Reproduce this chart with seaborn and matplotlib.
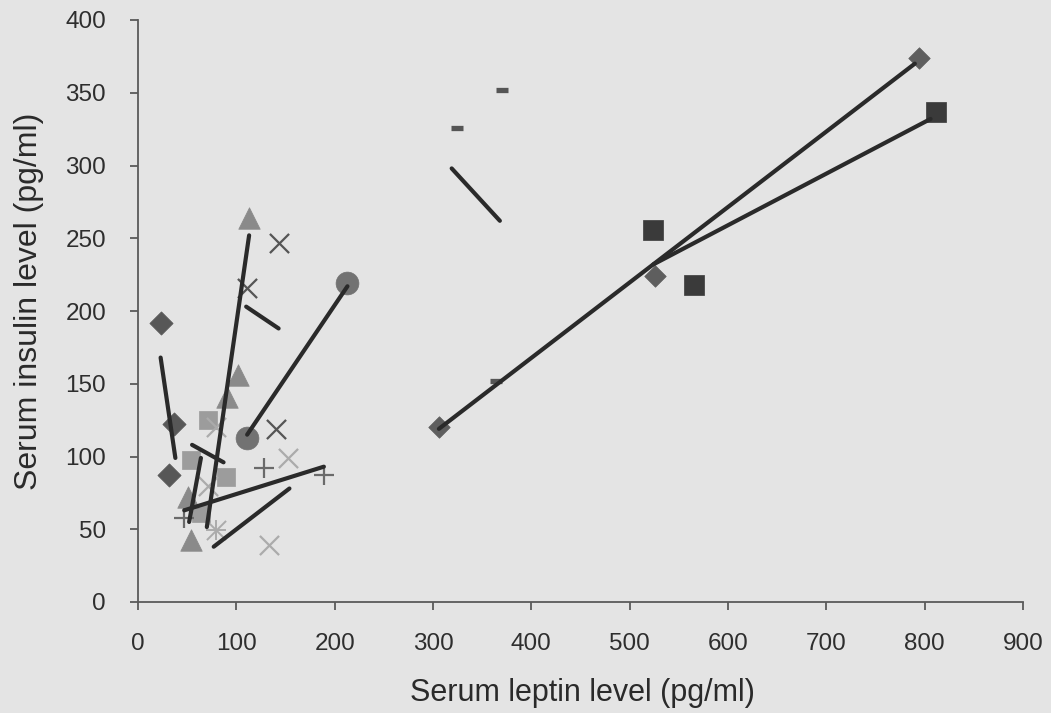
import pandas as pd
import matplotlib
matplotlib.use("Agg")
import matplotlib.pyplot as plt
import seaborn as sns

# one group of points per patient
patients = ["A", "B", "C", "D", "E", "F", "G", "H", "I", "J", "K", "L"]
leptin = [
    [23, 37, 32],
    [71, 54, 89.5, 64],
    [113, 102, 90.5],
    [51, 54],
    [111, 143, 140],
    [133, 153, 79, 71],
    [79],
    [111, 213],
    [47, 128, 189],
    [324, 370, 364],
    [306, 526, 794],
    [524, 565, 812],
]
insulin = [
    [192, 122, 87],
    [125, 97.5, 86, 61],
    [264, 156, 141],
    [72, 42.6],
    [216, 247, 119],
    [39, 99, 120, 80],
    [49.5],
    [113, 219],
    [58, 92, 87],
    [326, 352, 152],
    [120, 224, 374],
    [256, 218, 337],
]

# linear trend lines (start / end) per patient
fit_patients = ["A", "B", "C", "D", "E", "F", "H", "I", "J", "K", "L"]
fit_leptin = [[23, 38], [55, 87], [70, 113], [52, 64], [110, 143], [77, 154],
              [111, 213], [47, 189], [319, 368], [306, 790], [524, 806]]
fit_insulin = [[168, 99], [108, 96], [51.5, 252], [55, 99], [203, 188], [38, 78],
               [115, 217], [63, 93], [298, 262], [119, 370], [232, 332]]

# marker, colour, size
style = {
    "A": ("D", "#575757", 140),
    "B": ("s", "#9c9c9c", 165),
    "C": ("^", "#8a8a8a", 240),
    "D": ("^", "#8a8a8a", 240),
    "E": ("x", "#555555", 190),
    "F": ("x", "#ababab", 190),
    "G": ("*", "#ababab", 190),
    "H": ("o", "#727272", 270),
    "I": ("+", "#6a6a6a", 190),
    "J": ("_", "#555555", 70),
    "K": ("D", "#5e5e5e", 120),
    "L": ("s", "#3a3a3a", 215),
}

points = pd.DataFrame({
    "patient": [p for p, xs in zip(patients, leptin) for _ in xs],
    "leptin": [v for xs in leptin for v in xs],
    "insulin": [v for ys in insulin for v in ys],
})
fits = pd.DataFrame({
    "patient": [p for p, xs in zip(fit_patients, fit_leptin) for _ in xs],
    "leptin": [v for xs in fit_leptin for v in xs],
    "insulin": [v for ys in fit_insulin for v in ys],
})

sns.set_style("ticks")
plt.rcParams["font.family"] = ["Liberation Sans", "DejaVu Sans"]
bg = "#e4e4e4"

fig = plt.figure(figsize=(10.51, 7.13), dpi=100, facecolor=bg)
ax = fig.add_axes([138 / 1051, 1 - 602 / 713, (1023 - 138) / 1051, (602 - 20) / 713])
ax.set_facecolor(bg)

for p in patients:
    m, c, s = style[p]
    d = points[points["patient"] == p]
    if m in ("x", "+"):
        sns.scatterplot(data=d, x="leptin", y="insulin", marker=m, color=c, s=s,
                        linewidth=1.6, ax=ax, zorder=2)
    elif m == "_":
        sns.scatterplot(data=d, x="leptin", y="insulin", marker=m, color=c, s=s,
                        linewidth=3.8, ax=ax, zorder=2)
    elif m == "*":
        sns.scatterplot(data=d, x="leptin", y="insulin", marker="x", color=c, s=s,
                        linewidth=1.4, ax=ax, zorder=2)
        sns.scatterplot(data=d, x="leptin", y="insulin", marker="+", color=c, s=s,
                        linewidth=1.4, ax=ax, zorder=2)
    else:
        sns.scatterplot(data=d, x="leptin", y="insulin", marker=m, color=c, s=s,
                        edgecolor=c, linewidth=0.5, ax=ax, zorder=2)

sns.lineplot(data=fits, x="leptin", y="insulin", units="patient", estimator=None,
             color="#2a2a2a", linewidth=3, ax=ax, zorder=3)

ax.set_xlim(0, 900)
ax.set_ylim(0, 400)
ax.set_xticks(range(0, 901, 100))
ax.set_yticks(range(0, 401, 50))
sns.despine(ax=ax)
for side in ("left", "bottom"):
    ax.spines[side].set_color("#5a5a5a")
    ax.spines[side].set_linewidth(1.3)
ax.tick_params(axis="both", colors="#5a5a5a", labelcolor="#2e2e2e", labelsize=17.5,
               length=6, width=1.3, direction="out")
ax.tick_params(axis="x", pad=16)
ax.tick_params(axis="y", pad=17)

ax.set_xlabel("Serum leptin level (pg/ml)", fontsize=22, color="#2a2a2a")
ax.set_ylabel("Serum insulin level (pg/ml)", fontsize=23, color="#2a2a2a")
ax.xaxis.set_label_coords(0.502, -0.130)
ax.yaxis.set_label_coords(-0.106, 0.517)

fig.savefig("out.png", dpi=100, facecolor=bg)
